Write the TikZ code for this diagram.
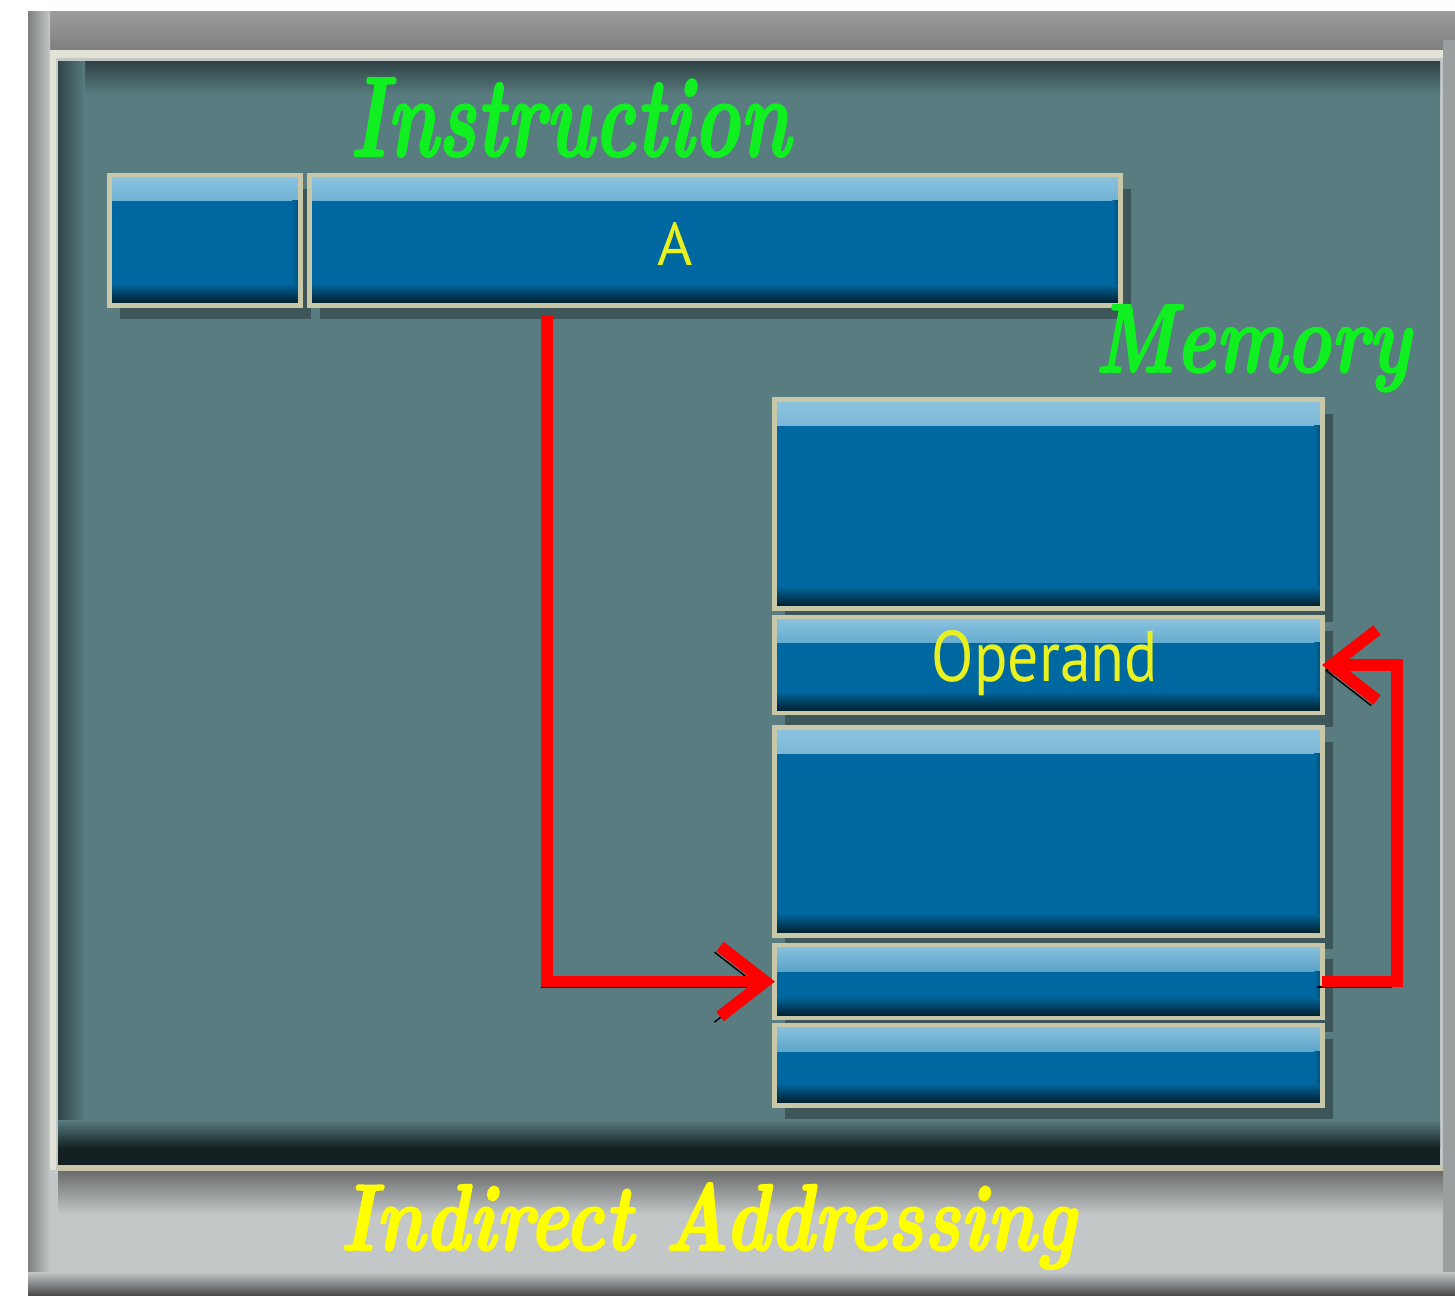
\documentclass[tikz,border=0pt]{standalone}
\usepackage{fontspec}
\usepackage{graphicx}
\newfontfamily\labelfont{PT Sans}
\newfontfamily\scriptface{lmroman10-bolditalic.otf}[FakeBold=2]
\usetikzlibrary{arrows.meta,shadows}
\definecolor{framelight}{HTML}{C3C7C7}
\definecolor{framemid}{HTML}{9A9C9C}
\definecolor{framedark}{HTML}{7E8080}
\definecolor{frameline}{HTML}{E2E2D6}
\definecolor{panel}{HTML}{587C80}
\definecolor{paneldark}{HTML}{142022}
\definecolor{boxblue}{HTML}{0068A0}
\definecolor{boxlight}{HTML}{8CC4E0}
\definecolor{boxdark}{HTML}{001822}
\definecolor{glow}{HTML}{C8C8A8}
\definecolor{scriptgreen}{HTML}{10F020}
\definecolor{labelyellow}{HTML}{E8F020}
\definecolor{scriptyellow}{HTML}{FFFF00}
\tikzset{
  blk/.style={rectangle, inner sep=0pt, outer sep=0pt, fill=boxblue, draw=glow, line width=1.4pt,
    drop shadow={shadow xshift=3pt, shadow yshift=-4pt, opacity=0.3, fill=black},
    path picture={
      \shade[top color=boxlight, bottom color=boxblue]
        (path picture bounding box.north west) rectangle ([yshift=-0.26cm]path picture bounding box.north east);
      \shade[top color=boxblue, bottom color=boxdark]
        ([yshift=0.22cm]path picture bounding box.south west) rectangle (path picture bounding box.south east);
      \shade[left color=boxblue, right color=boxblue!70!black]
        ([xshift=-0.08cm,yshift=-0.26cm]path picture bounding box.north east) rectangle ([yshift=0.22cm]path picture bounding box.south east);
    }},
  scripttext/.style={inner sep=0pt, outer sep=0pt, anchor=base west, font=\scriptface},
  boxlabel/.style={inner sep=0pt, text=labelyellow, font=\labelfont},
  arr/.style={draw=red, line width=3.4pt, line join=miter,
    -{Straight Barb[length=0.45cm,width=0.7cm]},
    preaction={draw=black, transform canvas={xshift=-1.6pt,yshift=-1.6pt}}}
}
\begin{document}
\begin{tikzpicture}[x={(0.01cm,0)}, y={(0,-0.01cm)}]
\useasboundingbox (0,0) rectangle (1455,1300);
\fill[white] (0,0) rectangle (1455,1300);
% outer frame
\fill[framelight] (28,12) rectangle (1455,1295);
\shade[top color=framemid, bottom color=framedark] (28,12) rectangle (1455,50);
\fill[frameline] (50,50) rectangle (1455,58);
\shade[left color=framedark, right color=framelight] (28,12) rectangle (50,1295);
\fill[frameline] (50,50) rectangle (56,1170);
\fill[framelight!80!black] (1443,40) rectangle (1455,1295);
% inner panel
\fill[panel] (58,62) rectangle (1440,1165);
\shade[top color=panel!55!black, bottom color=panel] (58,62) rectangle (1440,95);
\shade[left color=panel!55!black, right color=panel] (58,62) rectangle (85,1165);
\shade[top color=panel, bottom color=paneldark] (58,1120) rectangle (1440,1148);
\fill[paneldark] (58,1148) rectangle (1440,1165);
\fill[glow] (58,1165) rectangle (1443,1171);
% caption band
\shade[top color=framedark!85!black, bottom color=framelight] (58,1171) rectangle (1443,1215);
\shade[top color=framelight, bottom color=framedark!60!black] (28,1272) rectangle (1455,1295);
% instruction boxes
\node[blk, minimum width=1.90cm, minimum height=1.30cm] (ib) at (205,240) {};
\node[blk, minimum width=8.10cm, minimum height=1.30cm] (ia) at (715,240) {};
\node[boxlabel] (la) at (675,244) {\resizebox{!}{0.43cm}{A}};
% memory boxes
\node[blk, minimum width=5.47cm, minimum height=2.08cm] (m1) at (1048.5,504) {};
\node[blk, minimum width=5.47cm, minimum height=0.96cm] (m2) at (1048.5,665) {};
\node[boxlabel] (lo) at (1045,663) {\resizebox{2.26cm}{0.51cm}{Operand}};
\node[blk, minimum width=5.47cm, minimum height=2.07cm] (m3) at (1048.5,831.5) {};
\node[blk, minimum width=5.47cm, minimum height=0.73cm] (m4) at (1048.5,981.5) {};
\node[blk, minimum width=5.47cm, minimum height=0.80cm] (m5) at (1048.5,1065) {};
% script titles
\node[scripttext, text=scriptgreen] (tinst) at (350,156) {\resizebox{4.4cm}{0.78cm}{Instruction}};
\node[scripttext, text=scriptgreen] (tmem) at (1095,372) {\resizebox{3.15cm}{0.67cm}{Memory}};
\node[scripttext, text=scriptyellow] (tind) at (340,1250) {\resizebox{7.35cm}{0.67cm}{Indirect Addressing}};
% connectors
\draw[arr] ([xshift=-1.68cm,yshift=-0.1cm]ia.south) |- (m4.west);
\draw[arr] (m4.east) -- ++(75,0) |- (m2.east);
\end{tikzpicture}
\end{document}
